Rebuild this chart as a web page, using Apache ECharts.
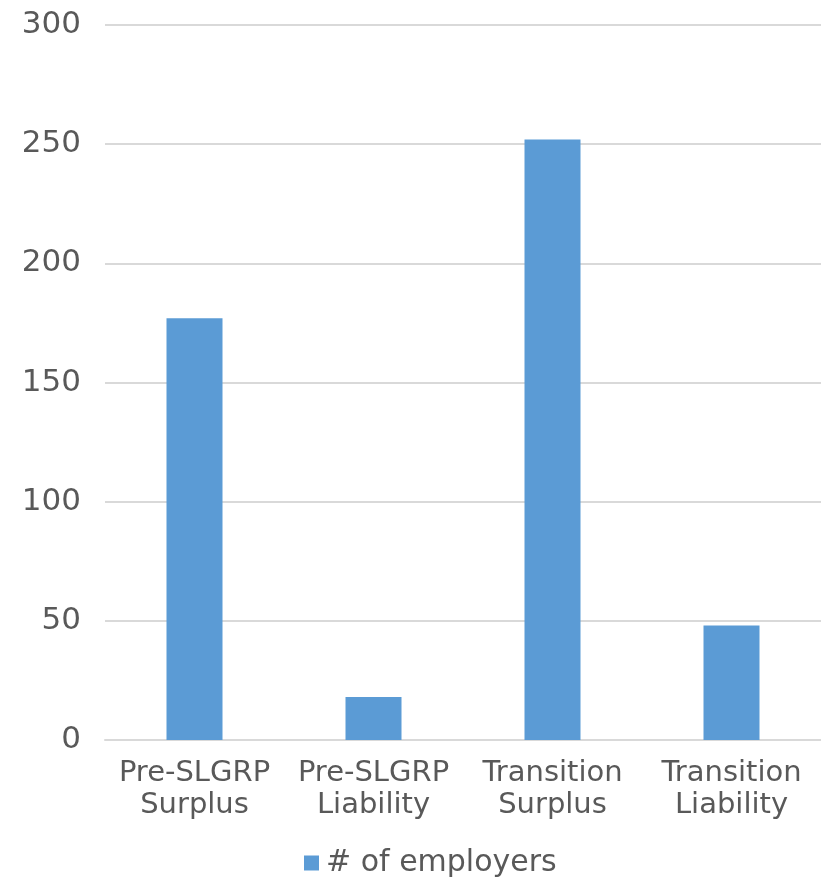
<!DOCTYPE html>
<html>
<head>
<meta charset="utf-8">
<script src="https://cdn.jsdelivr.net/npm/echarts@6/dist/echarts.min.js"></script>
<style>
	html, body { margin: 0; padding: 0; background: #fff; }
	#chart { width: 821px; height: 877px; }
</style>
</head>
<body>
<div id="chart"></div>
<script>
const categories = ['Pre-SLGRP\nSurplus', 'Pre-SLGRP\nLiability', 'Transition\nSurplus', 'Transition\nLiability']
const employers = [177, 18, 252, 48]
const seriesName = '# of employers'

const textColor = '#595959'
const fontFamily = 'DejaVu Sans'

const chart = echarts.init(document.getElementById('chart'))

chart.setOption({
	animation: false,
	color: ['#5B9BD5'],
	grid: {
		left: 105,
		right: 0,
		top: 25,
		bottom: 137,
	},
	legend: {
		data: [seriesName],
		bottom: -6,
		left: 299,
		icon: 'rect',
		itemWidth: 15,
		itemHeight: 15,
		itemGap: 8,
		textStyle: {
			color: textColor,
			fontSize: 30,
			fontFamily: fontFamily,
			padding: [0, 0, 0, 2],
		},
	},
	xAxis: {
		type: 'category',
		data: categories,
		axisLine: { lineStyle: { color: '#D9D9D9', width: 2 } },
		axisTick: { show: false },
		axisLabel: {
			color: textColor,
			fontSize: 29,
			fontFamily: fontFamily,
			lineHeight: 32,
			margin: 17,
			interval: 0,
		},
	},
	yAxis: {
		type: 'value',
		min: 0,
		max: 300,
		interval: 50,
		axisLine: { show: false },
		axisTick: { show: false },
		axisLabel: {
			color: textColor,
			fontSize: 31,
			fontFamily: fontFamily,
			margin: 24,
		},
		splitLine: { lineStyle: { color: '#D9D9D9', width: 2 } },
	},
	series: [
		{
			name: seriesName,
			type: 'bar',
			data: employers,
			barWidth: 56,
		},
	],
})
</script>
</body>
</html>
